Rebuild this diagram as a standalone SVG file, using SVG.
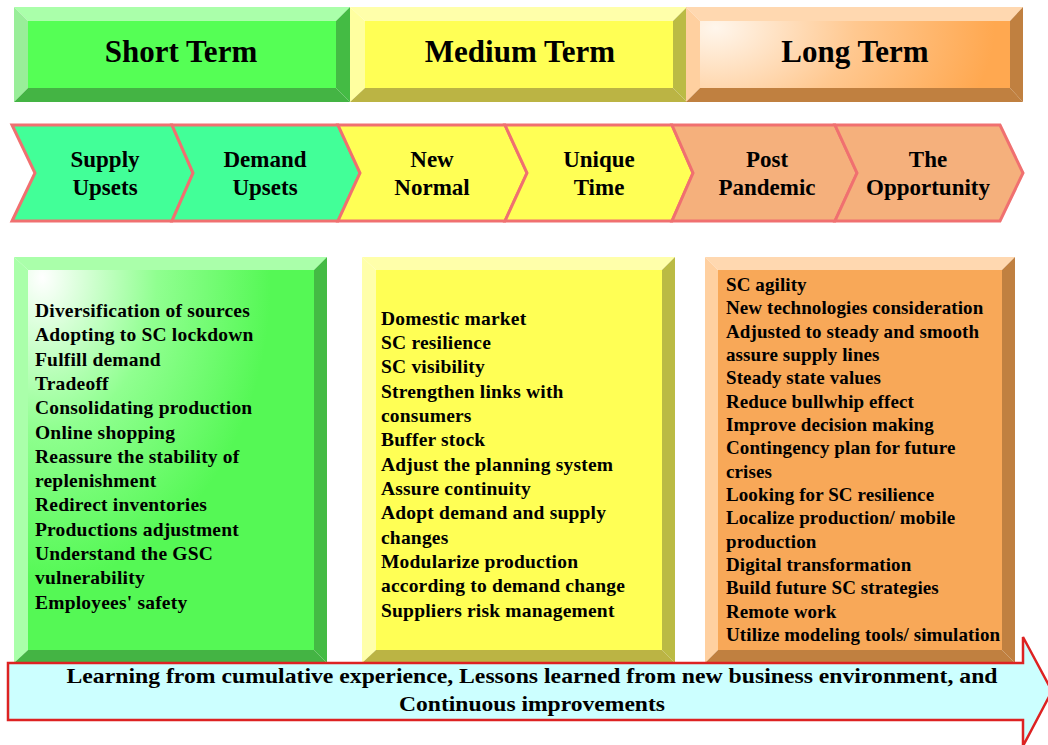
<svg xmlns="http://www.w3.org/2000/svg" width="1048" height="745" viewBox="0 0 1048 745">
<defs>
<style>
.t{font-family:"Liberation Serif","Times New Roman",serif;font-weight:bold;fill:#000}
.title{font-size:31px;text-anchor:middle}
.chev{font-size:23px;text-anchor:middle}
.item{font-size:19.5px;letter-spacing:0.2px}
.item2{font-size:19px;letter-spacing:0.1px}
.foot{font-size:22px;text-anchor:middle}
.cs{stroke:#f07070;stroke-width:3;stroke-linejoin:miter}
</style>
<radialGradient id="gFace" cx="0.05" cy="0.02" r="0.8">
<stop offset="0" stop-color="#ffffff"/>
<stop offset="0.5" stop-color="#90ff90"/>
<stop offset="1" stop-color="#55f855"/>
</radialGradient>
<radialGradient id="oFace" cx="0.05" cy="0.1" r="0.9" gradientTransform="translate(0.05,0.1) scale(1,3) translate(-0.05,-0.1)">
<stop offset="0" stop-color="#fff6ec"/>
<stop offset="0.5" stop-color="#ffc890"/>
<stop offset="1" stop-color="#ffa850"/>
</radialGradient>
</defs>
<rect width="1048" height="745" fill="#ffffff"/>

<!-- Top term headers -->
<g id="short-term">
<polygon points="14,7 350,7 336,21 28,21" fill="#aaffaa"/>
<polygon points="14,7 28,21 28,88 14,102" fill="#99ee99"/>
<polygon points="350,7 350,102 336,88 336,21" fill="#44bb44"/>
<polygon points="14,102 28,88 336,88 350,102" fill="#44b444"/>
<rect x="28" y="21" width="308" height="67" fill="#55ff55"/>
<text class="t title" x="181" y="62">Short Term</text>
</g>
<g id="medium-term">
<polygon points="350,7 687,7 673,21 365,21" fill="#ffffaa"/>
<polygon points="350,7 365,21 365,88 350,102" fill="#ffffa0"/>
<polygon points="687,7 687,102 673,88 673,21" fill="#bbbb44"/>
<polygon points="350,102 365,88 673,88 687,102" fill="#bbb444"/>
<rect x="365" y="21" width="308" height="67" fill="#ffff55"/>
<text class="t title" x="520" y="62">Medium Term</text>
</g>
<g id="long-term">
<polygon points="686,7 1023,7 1010,21 700,21" fill="#ffd8b0"/>
<polygon points="686,7 700,21 700,88 686,102" fill="#ffd0a0"/>
<polygon points="1023,7 1023,102 1010,88 1010,21" fill="#c08040"/>
<polygon points="686,102 700,88 1010,88 1023,102" fill="#c08040"/>
<rect x="700" y="21" width="310" height="67" fill="url(#oFace)"/>
<text class="t title" x="855" y="62">Long Term</text>
</g>

<!-- Chevrons -->
<g id="supply-upsets">
<polygon class="cs" points="12,125 172,125 193,173 172,221 12,221 35,173" fill="#42ff98"/>
<text class="t chev" x="105" y="167">Supply</text>
<text class="t chev" x="105" y="195">Upsets</text>
</g>
<g id="demand-upsets">
<polygon class="cs" points="172,125 338,125 360,173 338,221 172,221 193,173" fill="#42ff98"/>
<text class="t chev" x="265" y="167">Demand</text>
<text class="t chev" x="265" y="195">Upsets</text>
</g>
<g id="new-normal">
<polygon class="cs" points="338,125 505,125 527,173 505,221 338,221 360,173" fill="#ffff55"/>
<text class="t chev" x="432" y="167">New</text>
<text class="t chev" x="432" y="195">Normal</text>
</g>
<g id="unique-time">
<polygon class="cs" points="505,125 672,125 693,173 672,221 505,221 527,173" fill="#ffff55"/>
<text class="t chev" x="599" y="167">Unique</text>
<text class="t chev" x="599" y="195">Time</text>
</g>
<g id="post-pandemic">
<polygon class="cs" points="672,125 835,125 857,173 835,221 672,221 693,173" fill="#f5b07c"/>
<text class="t chev" x="767" y="167">Post</text>
<text class="t chev" x="767" y="195">Pandemic</text>
</g>
<g id="the-opportunity">
<polygon class="cs" points="835,125 1000,125 1023,173 1000,221 835,221 857,173" fill="#f5b07c"/>
<text class="t chev" x="928" y="167">The</text>
<text class="t chev" x="928" y="195">Opportunity</text>
</g>

<!-- Content boxes -->
<g id="short-term-list">
<polygon points="14,257 327,257 314,270 28,270" fill="#aaffaa"/>
<polygon points="14,257 28,270 28,650 14,663" fill="#aaffaa"/>
<polygon points="327,257 327,663 314,650 314,270" fill="#44bb44"/>
<polygon points="14,663 28,650 314,650 327,663" fill="#44b444"/>
<rect x="28" y="270" width="286" height="380" fill="url(#gFace)"/>
<text class="t item" x="35">
<tspan x="35" y="317">Diversification of sources</tspan>
<tspan x="35" y="341">Adopting to SC lockdown</tspan>
<tspan x="35" y="366">Fulfill demand</tspan>
<tspan x="35" y="390">Tradeoff</tspan>
<tspan x="35" y="414">Consolidating production</tspan>
<tspan x="35" y="439">Online shopping</tspan>
<tspan x="35" y="463">Reassure the stability of</tspan>
<tspan x="35" y="487">replenishment</tspan>
<tspan x="35" y="511">Redirect inventories</tspan>
<tspan x="35" y="536">Productions adjustment</tspan>
<tspan x="35" y="560">Understand the GSC</tspan>
<tspan x="35" y="584">vulnerability</tspan>
<tspan x="35" y="609">Employees' safety</tspan>
</text>
</g>
<g id="medium-term-list">
<polygon points="362,257 675,257 662,270 376,270" fill="#ffffaa"/>
<polygon points="362,257 376,270 376,650 362,663" fill="#ffffaa"/>
<polygon points="675,257 675,663 662,650 662,270" fill="#bbbb44"/>
<polygon points="362,663 376,650 662,650 675,663" fill="#bbb444"/>
<rect x="376" y="270" width="286" height="380" fill="#ffff55"/>
<text class="t item" x="381">
<tspan x="381" y="325">Domestic market</tspan>
<tspan x="381" y="349">SC resilience</tspan>
<tspan x="381" y="373">SC visibility</tspan>
<tspan x="381" y="398">Strengthen links with</tspan>
<tspan x="381" y="422">consumers</tspan>
<tspan x="381" y="446">Buffer stock</tspan>
<tspan x="381" y="471">Adjust the planning system</tspan>
<tspan x="381" y="495">Assure continuity</tspan>
<tspan x="381" y="519">Adopt demand and supply</tspan>
<tspan x="381" y="544">changes</tspan>
<tspan x="381" y="568">Modularize production</tspan>
<tspan x="381" y="592">according to demand change</tspan>
<tspan x="381" y="617">Suppliers risk management</tspan>
</text>
</g>
<g id="long-term-list">
<polygon points="705,257 1015,257 1002,270 718,270" fill="#ffd8b0"/>
<polygon points="705,257 718,270 718,650 705,663" fill="#ffd0a0"/>
<polygon points="1015,257 1015,663 1002,650 1002,270" fill="#c08040"/>
<polygon points="705,663 718,650 1002,650 1015,663" fill="#c08040"/>
<rect x="718" y="270" width="284" height="380" fill="#f8a858"/>
<text class="t item2" x="726">
<tspan x="726" y="291">SC agility</tspan>
<tspan x="726" y="314">New technologies consideration</tspan>
<tspan x="726" y="338">Adjusted to steady and smooth</tspan>
<tspan x="726" y="361">assure supply lines</tspan>
<tspan x="726" y="384">Steady state values</tspan>
<tspan x="726" y="408">Reduce bullwhip effect</tspan>
<tspan x="726" y="431">Improve decision making</tspan>
<tspan x="726" y="454">Contingency plan for future</tspan>
<tspan x="726" y="478">crises</tspan>
<tspan x="726" y="501">Looking for SC resilience</tspan>
<tspan x="726" y="524">Localize production/ mobile</tspan>
<tspan x="726" y="548">production</tspan>
<tspan x="726" y="571">Digital transformation</tspan>
<tspan x="726" y="594">Build future SC strategies</tspan>
<tspan x="726" y="618">Remote work</tspan>
<tspan x="726" y="641">Utilize modeling tools/ simulation</tspan>
</text>
</g>

<!-- Bottom learning arrow -->
<g id="learning-arrow">
<polygon points="8,663 1023,663 1023,637 1052,691 1023,746 1023,720 8,720" fill="#ccffff" stroke="#dd2222" stroke-width="2.5"/>
<text class="t foot" x="532" y="683" textLength="931" lengthAdjust="spacingAndGlyphs">Learning from cumulative experience, Lessons learned from new business environment, and</text>
<text class="t foot" x="532" y="711" textLength="266" lengthAdjust="spacingAndGlyphs">Continuous improvements</text>
</g>
<g id="connectors"/>
</svg>
